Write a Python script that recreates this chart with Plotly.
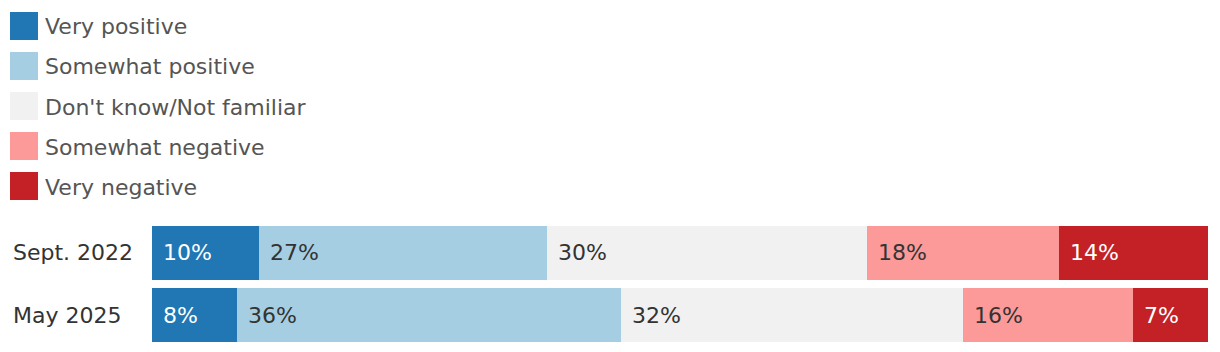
import plotly.graph_objects as go

categories = ["Sept. 2022", "May 2025"]
series_names = ["Very positive", "Somewhat positive", "Don't know/Not familiar",
                "Somewhat negative", "Very negative"]
very_positive = [10, 8]
somewhat_positive = [27, 36]
dont_know = [30, 32]
somewhat_negative = [18, 16]
very_negative = [14, 7]
series_values = [very_positive, somewhat_positive, dont_know, somewhat_negative, very_negative]

colors = ["#2077b4", "#a6cee3", "#f1f1f1", "#fb9a99", "#c42127"]
text_colors = ["#ffffff", "#333333", "#333333", "#333333", "#ffffff"]

W, H = 1220, 352
FONT = "DejaVu Sans"
FS = 22

fig = go.Figure()
for name, vals, col in zip(series_names, series_values, colors):
    fig.add_trace(go.Bar(
        y=categories, x=vals, name=name, orientation="h",
        marker=dict(color=col, line=dict(width=0)),
        showlegend=False, hoverinfo="skip",
    ))

# percentage labels inside bars (positions derived from data, normalized to 100)
annotations = []
for ci, cat in enumerate(categories):
    total = sum(v[ci] for v in series_values)
    cum = 0.0
    for si, vals in enumerate(series_values):
        v = vals[ci]
        annotations.append(dict(
            x=cum / total * 100, y=cat, xref="x", yref="y",
            text=f"{v}%", showarrow=False, xanchor="left", yanchor="middle",
            xshift=9, font=dict(family=FONT, size=FS, color=text_colors[si]),
        ))
        cum += v
    annotations.append(dict(
        x=11 / W, y=cat, xref="paper", yref="y", text=cat, showarrow=False,
        xanchor="left", yanchor="middle",
        font=dict(family=FONT, size=FS, color="#333333"),
    ))

# custom legend (square swatches)
shapes = []
for i, (name, col) in enumerate(zip(series_names, colors)):
    top = 12 + 40 * i
    shapes.append(dict(type="rect", xref="paper", yref="paper",
                       x0=10 / W, x1=38 / W, y0=1 - (top + 28) / H, y1=1 - top / H,
                       fillcolor=col, line=dict(width=0)))
    annotations.append(dict(
        x=43 / W, y=1 - (top + 15) / H, xref="paper", yref="paper", text=name,
        showarrow=False, xanchor="left", yanchor="middle",
        font=dict(family=FONT, size=FS, color="#555555"),
    ))

fig.update_layout(
    width=W, height=H, margin=dict(l=0, r=0, t=0, b=0),
    paper_bgcolor="white", plot_bgcolor="white",
    barmode="stack", barnorm="percent", bargap=8 / 62,
    xaxis=dict(domain=[152 / W, 1208 / W], range=[0, 100], visible=False, fixedrange=True),
    yaxis=dict(domain=[6 / H, 130 / H], autorange="reversed", visible=False, fixedrange=True),
    annotations=annotations, shapes=shapes,
    font=dict(family=FONT),
)

fig.write_html("out.html")
